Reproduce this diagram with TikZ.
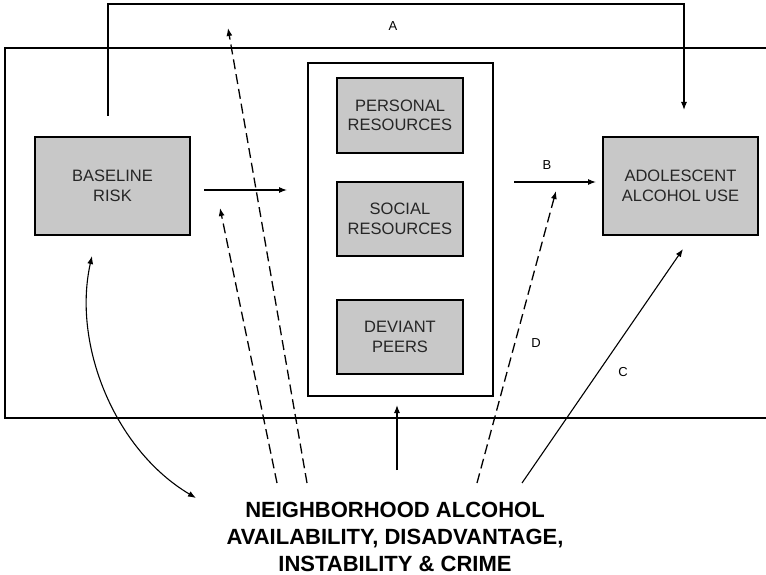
\documentclass[tikz,border=0pt]{standalone}
\usepackage{fontspec}
\setmainfont{Liberation Sans}
\usetikzlibrary{arrows.meta}
\definecolor{boxgray}{RGB}{200,200,200}
\begin{document}
\begin{tikzpicture}[x=1pt,y=-1pt,
  box/.style={draw=black,line width=1.5pt,fill=boxgray,align=center,inner sep=0pt,
    text=black!85,font=\fontsize{16.5}{19.5}\selectfont},
  frame/.style={draw=black,line width=1.4pt,inner sep=0pt},
  arr/.style={-{Latex[length=8pt,width=6pt]},line width=1.1pt},
  dsh/.style={arr,line width=1.3pt,dash pattern=on 10pt off 5pt},
  lab/.style={font=\fontsize{13}{15}\selectfont}]
\useasboundingbox (0,0) rectangle (766,575);
% outer frame
\draw[line width=2pt] (766,48) -- (5,48) -- (5,418) -- (766,418);
% nodes
\node[frame,minimum width=185pt,minimum height=333pt] (cont) at (400.5,229.5) {};
\node[box,minimum width=155pt,minimum height=98pt] (base) at (112.5,186) {BASELINE\\RISK};
\node[box,minimum width=126pt,minimum height=75pt] (pers) at (400,115.5) {PERSONAL\\RESOURCES};
\node[box,minimum width=126pt,minimum height=74pt] (soc) at (400,219) {SOCIAL\\RESOURCES};
\node[box,minimum width=126pt,minimum height=74pt] (dev) at (400,337) {DEVIANT\\PEERS};
\node[box,minimum width=155pt,minimum height=98pt] (ado) at (680.5,186) {ADOLESCENT\\ALCOHOL USE};
\node[align=center,font=\fontsize{22}{27}\selectfont\bfseries] (neigh) at (395,537)
  {NEIGHBORHOOD ALCOHOL\\AVAILABILITY, DISADVANTAGE,\\INSTABILITY \& CRIME};
% coordinates
\coordinate (aS) at (108,116);
\coordinate (aE) at (684,110);
\coordinate (mIn) at (287,190);
\coordinate (mOut) at (204,190);
\coordinate (bS) at (514,182);
\coordinate (bE) at (596,182);
\coordinate (n1) at (307,483);
\coordinate (t1) at (228,28);
\coordinate (n2) at (277,483);
\coordinate (t2) at (220,208);
\coordinate (n3) at (477,483);
\coordinate (t3) at (556,191);
\coordinate (n4) at (522,483);
\coordinate (t4) at (683,249);
\coordinate (n5) at (397,470);
\coordinate (t5) at (397,405);
\coordinate (cS) at (92,256);
\coordinate (cE) at (196,498);
% connectors
\draw[arr] (aS) -- (108,4) -- (684,4) -- (aE);
\node[lab] (la) at (393,26) {A};
\draw[arr] (mOut) -- (mIn);
\draw[arr] (bS) -- (bE);
\node[lab] (lb) at (547,165) {B};
\draw[dsh] (n1) -- (t1);
\draw[dsh] (n2) -- (t2);
\draw[dsh] (n3) -- (t3);
\node[lab] (ld) at (536,343) {D};
\draw[arr] (n4) -- (t4);
\node[lab] (lc) at (623,372) {C};
\draw[arr] (n5) -- (t5);
\draw[{Latex[length=8pt,width=6pt]}-{Latex[length=8pt,width=6pt]},line width=1.1pt]
  (cS) .. controls (72,345) and (115,450) .. (cE);
\end{tikzpicture}
\end{document}
